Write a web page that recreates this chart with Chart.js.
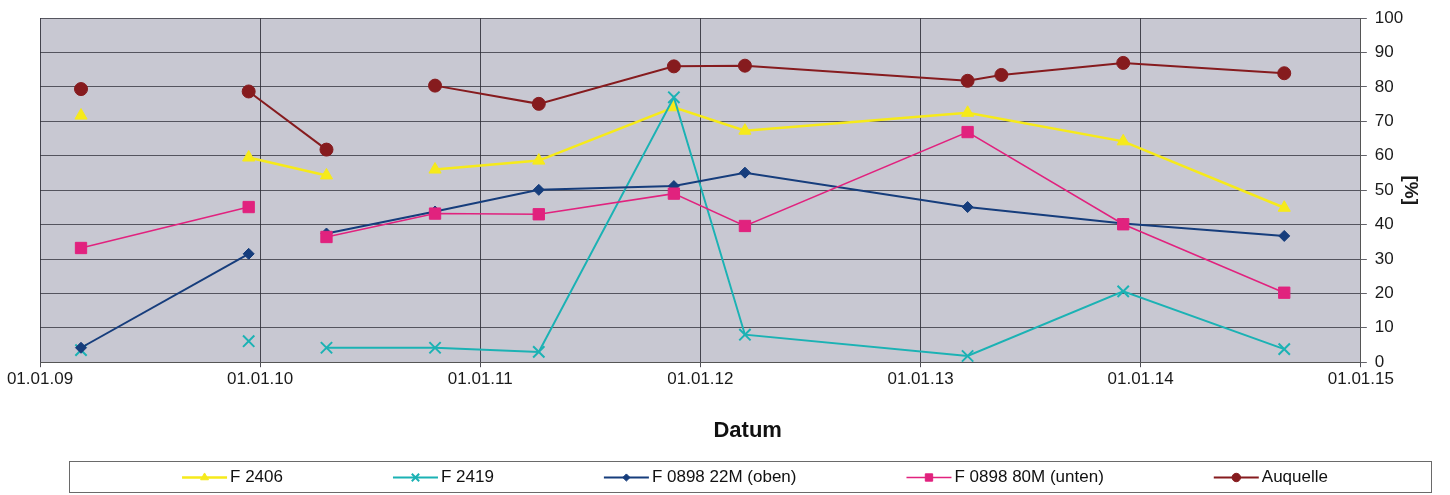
<!DOCTYPE html>
<html>
<head>
<meta charset="utf-8">
<title>Datum</title>
<script src="https://cdn.jsdelivr.net/npm/chart.js@4/dist/chart.umd.min.js"></script>
<style>
  html, body { margin: 0; padding: 0; background: #fff; }
  #chart { display: block; }
</style>
</head>
<body>
<canvas id="chart" width="1450" height="495"></canvas>
<script>
// sampling dates (dd.mm.yy)
var dates = ['10.03.09', '13.12.09', '21.04.10', '18.10.10', '08.04.11', '18.11.11',
             '15.03.12', '20.03.13', '15.05.13', '03.12.13', '27.08.14'];

// values in %, one per date, null = not sampled
var f2406    = [71.7, 59.5, 54.3, 56.0, 58.6, 74.1, 67.3, 72.5, null, 64.2, 44.9];
var f2419    = [3.5, 6.1, 4.2, 4.2, 3.0, 77.0, 8.0, 1.8, null, 20.6, 3.8];
var f0898o   = [4.2, 31.5, 37.4, 43.8, 50.1, 51.2, 55.1, 45.1, null, 40.3, 36.7];
var f0898u   = [33.2, 45.1, 36.4, 43.2, 43.0, 49.0, 39.6, 66.9, null, 40.1, 20.2];
var auquelle = [79.4, 78.7, 61.8, 80.4, 75.1, 86.0, 86.2, 81.8, 83.5, 87.0, 84.0];

// the line is interrupted after these date indexes
var f2406Gaps    = [0, 2];
var f2419Gaps    = [0, 1];
var f0898oGaps   = [1];
var f0898uGaps   = [1];
var auquelleGaps = [0, 2];

var seriesNames = ['F 2406', 'F 2419', 'F 0898 22M (oben)', 'F 0898 80M (unten)', 'Auquelle'];
var yearTicks = [2009, 2010, 2011, 2012, 2013, 2014, 2015];

// 'dd.mm.yy' -> fractional year
function toYear(s) {
    var p = s.split('.');
    var y = 2000 + parseInt(p[2], 10);
    var start = Date.UTC(y, 0, 1);
    var end = Date.UTC(y + 1, 0, 1);
    return y + (Date.UTC(y, parseInt(p[1], 10) - 1, parseInt(p[0], 10)) - start) / (end - start);
}

function points(values) {
    return dates.map(function (d, i) { return { x: toYear(d), y: values[i] }; });
}

function hideGaps(gaps) {
    return {
        borderColor: function (ctx) {
            return gaps.indexOf(ctx.p0DataIndex) >= 0 ? 'rgba(0,0,0,0)' : undefined;
        }
    };
}

function series(i, values, gaps, color, width, style, radius) {
    return {
        label: seriesNames[i],
        data: points(values),
        borderColor: color,
        borderWidth: width,
        backgroundColor: color,
        pointBackgroundColor: color,
        pointBorderColor: color,
        pointBorderWidth: style == 'crossRot' ? 2 : 1,
        pointStyle: style,
        pointRadius: radius,
        spanGaps: true,
        segment: hideGaps(gaps),
        order: 5 - i
    };
}

var plotBackground = {
    id: 'plotBackground',
    afterLayout: function (chart, args, opts) {
        // excel centres the axis title a bit right of the canvas middle
        if (chart.titleBlock) chart.titleBlock.left += opts.titleShift;
    },
    beforeDraw: function (chart, args, opts) {
        var a = chart.chartArea;
        chart.ctx.save();
        chart.ctx.fillStyle = opts.color;
        chart.ctx.fillRect(a.left, a.top, a.right - a.left, a.bottom - a.top);
        chart.ctx.restore();
    }
};

// excel like legend: framed row, line + marker samples
var boxLegend = {
    id: 'boxLegend',
    afterDraw: function (chart, args, o) {
        var ctx = chart.ctx;
        ctx.save();
        ctx.strokeStyle = '#6a6a6a';
        ctx.lineWidth = 1;
        ctx.strokeRect(o.left + 0.5, o.top + 0.5, o.right - o.left, o.bottom - o.top);
        ctx.font = o.font;
        ctx.textBaseline = 'middle';
        ctx.textAlign = 'left';
        var items = chart.data.datasets.map(function (ds) {
            return { ds: ds, w: o.lineLen + o.textGap + ctx.measureText(ds.label).width };
        });
        var total = o.itemGap * (items.length - 1);
        items.forEach(function (it) { total += it.w; });
        var x = o.center - total / 2;
        var y = (o.top + o.bottom) / 2 + 1;
        items.forEach(function (it) {
            var ds = it.ds;
            ctx.strokeStyle = ds.borderColor;
            ctx.lineWidth = ds.borderWidth;
            ctx.beginPath();
            ctx.moveTo(x, y);
            ctx.lineTo(x + o.lineLen, y);
            ctx.stroke();
            ctx.fillStyle = ds.pointBackgroundColor;
            ctx.strokeStyle = ds.pointBorderColor;
            ctx.lineWidth = ds.pointBorderWidth;
            Chart.helpers.drawPoint(ctx, {
                pointStyle: ds.pointStyle,
                radius: ds.pointRadius * 0.65,
                rotation: 0,
                borderWidth: ds.pointBorderWidth
            }, x + o.lineLen / 2, y);
            ctx.fillStyle = '#111';
            ctx.fillText(ds.label, x + o.lineLen + o.textGap, y);
            x += it.w + o.itemGap;
        });
        ctx.restore();
    }
};

Chart.defaults.font.family = '"Liberation Sans", Arial, sans-serif';
Chart.defaults.color = '#1a1a1a';

var ctx = document.getElementById('chart');
var chart = new Chart(ctx, {
    type: 'line',
    data: {
        datasets: [
            series(0, f2406, f2406Gaps, '#f6ea1a', 2.5, 'triangle', 7),
            series(1, f2419, f2419Gaps, '#1bb2b4', 2, 'crossRot', 8),
            series(2, f0898o, f0898oGaps, '#163d7c', 2, 'rectRot', 5.5),
            series(3, f0898u, f0898uGaps, '#e1227e', 1.5, 'rect', 8),
            series(4, auquelle, auquelleGaps, '#861b1e', 2, 'circle', 6.5)
        ]
    },
    options: {
        responsive: false,
        animation: false,
        layout: { padding: { left: 40, right: 36.6, top: 9, bottom: 51 } },
        scales: {
            x: {
                type: 'linear',
                min: 2009,
                max: 2015,
                afterBuildTicks: function (scale) {
                    scale.ticks = yearTicks.map(function (v) { return { value: v }; });
                },
                grid: { color: 'rgba(35,35,45,0.8)', lineWidth: 1, tickLength: 5 },
                border: { color: '#555' },
                ticks: {
                    padding: 2,
                    maxRotation: 0,
                    autoSkip: false,
                    font: { size: 17 },
                    callback: function (v) { return '01.01.' + String(v).slice(2); }
                }
            },
            y: {
                position: 'right',
                min: 0,
                max: 100,
                grid: { color: 'rgba(45,45,55,0.75)', lineWidth: 1, tickLength: 6 },
                border: { color: '#555' },
                ticks: { stepSize: 10, padding: 8, font: { size: 17 } },
                title: {
                    display: true,
                    text: '[%]',
                    font: { size: 19, weight: 'bold' },
                    padding: { top: -8, bottom: -12.6 }
                }
            }
        },
        plugins: {
            legend: { display: false },
            tooltip: { enabled: false },
            title: {
                display: true,
                position: 'bottom',
                text: 'Datum',
                color: '#111',
                font: { size: 22, weight: 'bold' },
                padding: { top: 26, bottom: 0 }
            },
            plotBackground: { color: '#c8c8d2', titleShift: 42 },
            boxLegend: {
                left: 69, right: 1431, top: 461, bottom: 492,
                center: 755,
                lineLen: 45,
                textGap: 3,
                itemGap: 110,
                font: '17px "Liberation Sans", Arial, sans-serif'
            }
        }
    },
    plugins: [plotBackground, boxLegend]
});
</script>
</body>
</html>
